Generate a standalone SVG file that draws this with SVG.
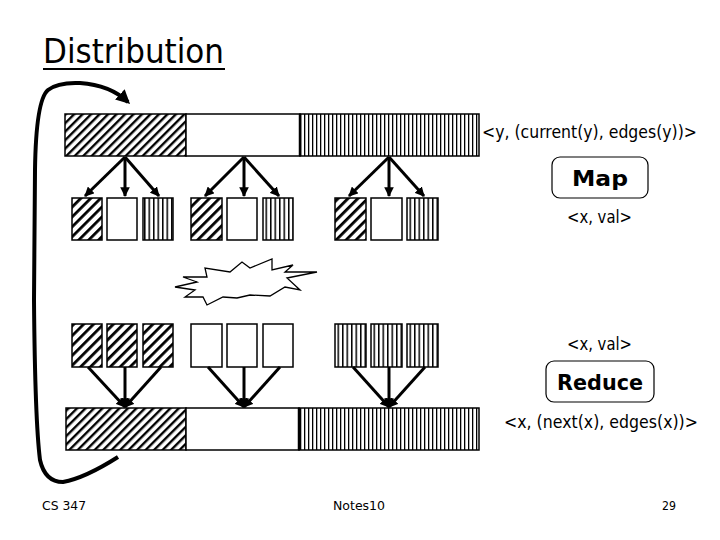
<svg xmlns="http://www.w3.org/2000/svg" width="720" height="540" viewBox="0 0 720 540">
<style>
  .t { font-family: "DejaVu Sans", Verdana, sans-serif; fill: #000; }
  .box { stroke: #000; stroke-width: 1.5; }
  .bar { stroke: #000; stroke-width: 1.5; }
  .arr { stroke: #000; stroke-width: 3; fill: none; }
</style>
<defs>
  <pattern id="diagBig" patternUnits="userSpaceOnUse" width="6" height="6" patternTransform="rotate(45)">
    <rect width="6" height="6" fill="#fff"/>
    <rect x="0" y="0" width="2.4" height="6" fill="#000"/>
  </pattern>
  <pattern id="diagSmall" patternUnits="userSpaceOnUse" width="7" height="7" patternTransform="rotate(45)">
    <rect width="7" height="7" fill="#fff"/>
    <rect x="0" y="0" width="2.8" height="7" fill="#000"/>
  </pattern>
  <pattern id="vertBig" patternUnits="userSpaceOnUse" width="4" height="10">
    <rect width="4" height="10" fill="#fff"/>
    <rect x="0" y="0" width="1.3" height="10" fill="#000"/>
  </pattern>
  <pattern id="vertSmall" patternUnits="userSpaceOnUse" width="4.5" height="10">
    <rect width="4.5" height="10" fill="#fff"/>
    <rect x="0" y="0" width="1.5" height="10" fill="#000"/>
  </pattern>
  <marker id="ah" viewBox="0 0 10 10" refX="9" refY="5" markerWidth="3.2" markerHeight="3.2" orient="auto" markerUnits="strokeWidth">
    <path d="M0,0 L10,5 L0,10 z" fill="#000"/>
  </marker>
  <marker id="ahBig" viewBox="0 0 10 10" refX="8" refY="5" markerWidth="3.5" markerHeight="3.5" orient="auto" markerUnits="strokeWidth">
    <path d="M0,0 L10,5 L0,10 z" fill="#000"/>
  </marker>
</defs>
<rect width="720" height="540" fill="#fff"/>

<g id="title">
  <text class="t" x="43" y="63" font-size="33" textLength="181" lengthAdjust="spacingAndGlyphs">Distribution</text>
  <line x1="43" y1="69" x2="225" y2="69" stroke="#000" stroke-width="2"/>
</g>

<g id="top-bar">
  <rect class="bar" x="65" y="114" width="121" height="42" fill="url(#diagBig)"/>
  <rect class="bar" x="186" y="114" width="114" height="42" fill="#fff"/>
  <rect class="bar" x="300" y="114" width="179" height="42" fill="url(#vertBig)"/>
  <line x1="300" y1="114" x2="300" y2="156" stroke="#000" stroke-width="2.5"/>
</g>
<text id="label-top" class="t" x="482" y="138" font-size="17" textLength="215" lengthAdjust="spacingAndGlyphs">&lt;y, (current(y), edges(y))&gt;</text>

<g id="map">
  <rect x="552" y="157" width="96" height="41" rx="8" ry="8" fill="#fff" stroke="#000" stroke-width="1.2"/>
  <text class="t" x="600" y="186" font-size="22" font-weight="bold" text-anchor="middle" textLength="56" lengthAdjust="spacingAndGlyphs">Map</text>
</g>
<text id="label-xval1" class="t" x="567" y="223" font-size="17" textLength="65" lengthAdjust="spacingAndGlyphs">&lt;x, val&gt;</text>

<g id="map-outputs">
  <rect class="box" x="72" y="198" width="30" height="42" fill="url(#diagSmall)"/>
  <rect class="box" x="107" y="198" width="30" height="42" fill="#fff"/>
  <rect class="box" x="143" y="198" width="30" height="42" fill="url(#vertSmall)"/>
  <rect class="box" x="191" y="198" width="31" height="42" fill="url(#diagSmall)"/>
  <rect class="box" x="227" y="198" width="30" height="42" fill="#fff"/>
  <rect class="box" x="263" y="198" width="30" height="42" fill="url(#vertSmall)"/>
  <rect class="box" x="335" y="198" width="31" height="42" fill="url(#diagSmall)"/>
  <rect class="box" x="371" y="198" width="31" height="42" fill="#fff"/>
  <rect class="box" x="407" y="198" width="31" height="42" fill="url(#vertSmall)"/>
</g>

<g id="shuffle">
  <polygon points="183,277 207,277 205,268 230,272 242,262 250,268 272,259 272,270 293,265 285,272 317,272 287,278 300,290 285,287 270,296 250,295 237,298 223,297 207,305 203,297 185,297 195,290 175,287 197,282" fill="#fff" stroke="#000" stroke-width="1.3"/>
</g>

<text id="label-xval2" class="t" x="567" y="350" font-size="17" textLength="65" lengthAdjust="spacingAndGlyphs">&lt;x, val&gt;</text>

<g id="reduce-inputs">
  <rect class="box" x="72" y="324" width="30" height="43" fill="url(#diagSmall)"/>
  <rect class="box" x="107" y="324" width="30" height="43" fill="url(#diagSmall)"/>
  <rect class="box" x="143" y="324" width="30" height="43" fill="url(#diagSmall)"/>
  <rect class="box" x="191" y="324" width="31" height="43" fill="#fff"/>
  <rect class="box" x="227" y="324" width="30" height="43" fill="#fff"/>
  <rect class="box" x="263" y="324" width="30" height="43" fill="#fff"/>
  <rect class="box" x="335" y="324" width="31" height="43" fill="url(#vertSmall)"/>
  <rect class="box" x="371" y="324" width="31" height="43" fill="url(#vertSmall)"/>
  <rect class="box" x="407" y="324" width="31" height="43" fill="url(#vertSmall)"/>
</g>

<g id="reduce">
  <rect x="546" y="361" width="108" height="41" rx="8" ry="8" fill="#fff" stroke="#000" stroke-width="1.2"/>
  <text class="t" x="600" y="390" font-size="22" font-weight="bold" text-anchor="middle" textLength="86" lengthAdjust="spacingAndGlyphs">Reduce</text>
</g>
<text id="label-bottom" class="t" x="504" y="428" font-size="17" textLength="194" lengthAdjust="spacingAndGlyphs">&lt;x, (next(x), edges(x))&gt;</text>

<g id="bottom-bar">
  <rect class="bar" x="66" y="408" width="120" height="42" fill="url(#diagBig)"/>
  <rect class="bar" x="186" y="408" width="113" height="42" fill="#fff"/>
  <rect class="bar" x="299" y="408" width="180" height="42" fill="url(#vertBig)"/>
  <line x1="299" y1="408" x2="299" y2="450" stroke="#000" stroke-width="2.5"/>
</g>

<g id="connectors">
  <line class="arr" x1="125" y1="157" x2="85" y2="196" marker-end="url(#ah)"/>
  <line class="arr" x1="125" y1="157" x2="125" y2="196" marker-end="url(#ah)"/>
  <line class="arr" x1="125" y1="157" x2="159" y2="196" marker-end="url(#ah)"/>
  <line class="arr" x1="244" y1="157" x2="205" y2="196" marker-end="url(#ah)"/>
  <line class="arr" x1="244" y1="157" x2="244" y2="196" marker-end="url(#ah)"/>
  <line class="arr" x1="244" y1="157" x2="279" y2="196" marker-end="url(#ah)"/>
  <line class="arr" x1="389" y1="157" x2="349" y2="196" marker-end="url(#ah)"/>
  <line class="arr" x1="389" y1="157" x2="389" y2="196" marker-end="url(#ah)"/>
  <line class="arr" x1="389" y1="157" x2="424" y2="196" marker-end="url(#ah)"/>

  <line class="arr" x1="88" y1="367" x2="125" y2="407" marker-end="url(#ah)"/>
  <line class="arr" x1="125" y1="367" x2="125" y2="407" marker-end="url(#ah)"/>
  <line class="arr" x1="161" y1="367" x2="125" y2="407" marker-end="url(#ah)"/>
  <line class="arr" x1="208" y1="367" x2="244" y2="407" marker-end="url(#ah)"/>
  <line class="arr" x1="244" y1="367" x2="244" y2="407" marker-end="url(#ah)"/>
  <line class="arr" x1="280" y1="367" x2="244" y2="407" marker-end="url(#ah)"/>
  <line class="arr" x1="353" y1="367" x2="389" y2="407" marker-end="url(#ah)"/>
  <line class="arr" x1="389" y1="367" x2="389" y2="407" marker-end="url(#ah)"/>
  <line class="arr" x1="425" y1="367" x2="389" y2="407" marker-end="url(#ah)"/>

  <path d="M118,457 Q 85,478 63,482 Q 45,482 40,460 Q 35,420 34,300 L 35,170 Q 36,100 48,90 Q 58,82 80,83 Q 110,85 128,102" stroke="#000" stroke-width="4" fill="none" marker-end="url(#ahBig)"/>
</g>

<g id="footer">
  <text class="t" x="42" y="510" font-size="13" textLength="44" lengthAdjust="spacingAndGlyphs">CS 347</text>
  <text class="t" x="333" y="510" font-size="13" textLength="52" lengthAdjust="spacingAndGlyphs">Notes10</text>
  <text class="t" x="662" y="510" font-size="13" textLength="14" lengthAdjust="spacingAndGlyphs">29</text>
</g>
</svg>
